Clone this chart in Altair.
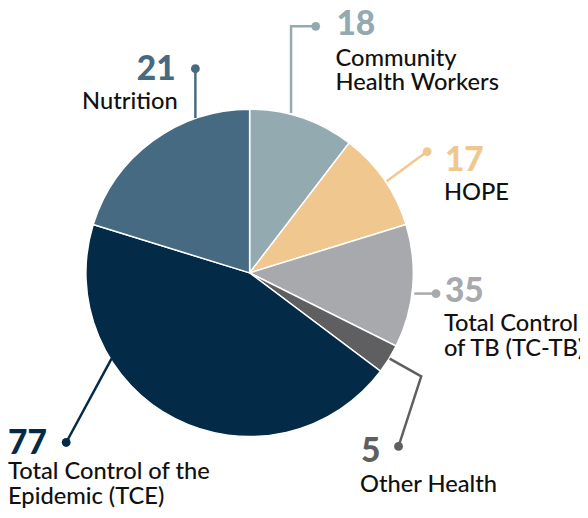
import altair as alt
import pandas as pd

# Slices, clockwise from 12 o'clock
names = ["Community Health Workers", "HOPE", "Total Control of TB (TC-TB)",
         "Other Health", "Total Control of the Epidemic (TCE)", "Nutrition"]
# slice sizes as drawn in the picture
slice_values = [18, 17, 21, 5, 77, 35]
# numbers printed next to the slices
label_numbers = ["18", "17", "35", "5", "77", "21"]
label_lines = [["Community", "Health Workers"], ["HOPE"], ["Total Control", "of TB (TC-TB)"],
               ["Other Health"], ["Total Control of the", "Epidemic (TCE)"], ["Nutrition"]]
colors = ["#93aab1", "#f1c790", "#a8a9ac", "#5f5f61", "#032a47", "#466a82"]

W, H = 580, 510
CX, CY, R = 245, 265, 166

pie_df = pd.DataFrame({"name": names, "v": slice_values, "idx": list(range(len(names)))})

# layout of annotations (pixel positions)
num_x = [333, 443, 443, 358, 0, 170]
num_y = [24, 162, 295, 457, 449, 69]
num_align = ["left", "left", "left", "left", "left", "right"]
lab_x = [332, 442, 442, 357, 0, 172]
lab_y = [55, 191, 324, 487, 474, 99]
leaders = [
    [(287, 103), (287, 15), (312, 15)],
    [(384, 172), (425, 142)],
    [(412, 286), (434, 286)],
    [(387, 352), (419, 370), (396, 441)],
    [(105, 352), (59, 437)],
    [(190, 108), (190, 58)],
]

color_scale = alt.Scale(domain=names, range=colors)
xs = alt.Scale(domain=[0, W], nice=False, zero=False)
ys = alt.Scale(domain=[H, 0], nice=False, zero=False)

pie = alt.Chart(pie_df).mark_arc(outerRadius=R, stroke="white", strokeWidth=1.5).encode(
    theta=alt.Theta("v:Q", stack=True),
    color=alt.Color("name:N", scale=color_scale, legend=None),
    order=alt.Order("idx:Q"),
    x=alt.value(CX), y=alt.value(CY),
)

line_rows = []
dot_rows = []
for i, pts in enumerate(leaders):
    for j, (px, py) in enumerate(pts):
        line_rows.append({"name": names[i], "o": j, "px": px, "py": py})
    dot_rows.append({"name": names[i], "px": pts[-1][0], "py": pts[-1][1]})
line_df = pd.DataFrame(line_rows)
dot_df = pd.DataFrame(dot_rows)

lines = alt.Chart(line_df).mark_line(strokeWidth=2.5).encode(
    x=alt.X("px:Q", scale=xs, axis=None),
    y=alt.Y("py:Q", scale=ys, axis=None),
    color=alt.Color("name:N", scale=color_scale, legend=None),
    detail="name:N",
    order="o:Q",
)
dots = alt.Chart(dot_df).mark_circle(size=80, opacity=1).encode(
    x=alt.X("px:Q", scale=xs, axis=None),
    y=alt.Y("py:Q", scale=ys, axis=None),
    color=alt.Color("name:N", scale=color_scale, legend=None),
)

num_df = pd.DataFrame({"name": names, "t": label_numbers, "px": num_x, "py": num_y, "al": num_align})
lab_df = pd.DataFrame({"name": names, "t": label_lines, "px": lab_x, "py": lab_y, "al": num_align})

nums = []
labs = []
for al in ["left", "right"]:
    nums.append(alt.Chart(num_df[num_df.al == al]).mark_text(
        font="Lato", fontSize=34, fontWeight=900, align=al, baseline="alphabetic"
    ).encode(
        x=alt.X("px:Q", scale=xs, axis=None),
        y=alt.Y("py:Q", scale=ys, axis=None),
        text="t:N",
        color=alt.Color("name:N", scale=color_scale, legend=None),
    ))
    labs.append(alt.Chart(lab_df[lab_df.al == al]).mark_text(
        font="Lato", fontSize=24, fontWeight=500, align=al, baseline="alphabetic",
        lineHeight=25, color="#111111"
    ).encode(
        x=alt.X("px:Q", scale=xs, axis=None),
        y=alt.Y("py:Q", scale=ys, axis=None),
        text="t",
    ))

chart = alt.layer(pie, lines, dots, *nums, *labs).properties(
    width=W, height=H, padding=0,
    autosize=alt.AutoSizeParams(type="none"),
).configure_view(stroke=None)

chart.save("out.html", embed_options={"renderer": "svg", "actions": False})
